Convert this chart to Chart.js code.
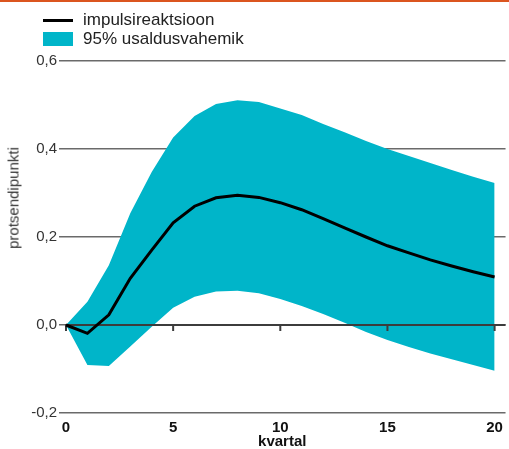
<!DOCTYPE html>
<html>
<head>
<meta charset="utf-8">
<script src="https://cdn.jsdelivr.net/npm/chart.js@4/dist/chart.umd.min.js"></script>
<style>
    html, body { margin: 0; padding: 0; background: #fff; }
    #wrap { position: relative; width: 509px; height: 449px; overflow: hidden; font-family: "Liberation Sans", Arial, sans-serif; }
    #topbar { position: absolute; left: 0; top: 0; width: 509px; height: 2px; background: #db551f; }
    #legend { position: absolute; left: 43px; top: 11px; color: #222; font-size: 17px; line-height: 18.5px; }
    .leg-item { display: flex; align-items: center; height: 18.5px; }
    .leg-line { width: 30px; height: 3px; background: #000; margin-right: 10px; }
    .leg-box { width: 30px; height: 14px; background: #00b5c9; margin-right: 10px; }
    #ytitle { position: absolute; left: 13px; top: 198px; transform: translate(-50%, -50%) rotate(-90deg); font-size: 15px; color: #333; white-space: nowrap; }
    canvas { position: absolute; left: 0; top: 0; }
</style>
</head>
<body>
<div id="wrap">
    <canvas id="chart" width="509" height="449"></canvas>
    <div id="topbar"></div>
    <div id="legend">
        <div class="leg-item"><span class="leg-line"></span>impulsireaktsioon</div>
        <div class="leg-item"><span class="leg-box"></span>95% usaldusvahemik</div>
    </div>
    <div id="ytitle">protsendipunkti</div>
</div>
<script>
    const quarters = [0, 1, 2, 3, 4, 5, 6, 7, 8, 9, 10, 11, 12, 13, 14, 15, 16, 17, 18, 19, 20];
    const impulse = [0, -0.019, 0.023, 0.106, 0.170, 0.232, 0.270, 0.289, 0.295, 0.290, 0.278,
        0.262, 0.242, 0.221, 0.200, 0.180, 0.164, 0.148, 0.134, 0.121, 0.109];
    const upperBand = [0, 0.053, 0.136, 0.254, 0.348, 0.426, 0.475, 0.502, 0.511, 0.507, 0.492,
        0.477, 0.457, 0.438, 0.418, 0.400, 0.384, 0.368, 0.352, 0.337, 0.323];
    const lowerBand = [0, -0.091, -0.093, -0.049, -0.004, 0.039, 0.064, 0.076, 0.078, 0.072, 0.059,
        0.043, 0.025, 0.005, -0.016, -0.034, -0.050, -0.065, -0.078, -0.091, -0.104];
    const xTicks = [0, 5, 10, 15, 20];
    const yTicks = [-0.2, 0, 0.2, 0.4, 0.6];

    const toPoints = (values) => quarters.map((q, i) => ({ x: q, y: values[i] }));

    // zero line with small tick marks, drawn over the band but under the impulse line
    const zeroAxis = {
        id: 'zeroAxis',
        beforeDatasetDraw(chart, args) {
            if (args.index !== 0) return;
            const ctx = chart.ctx;
            const x = chart.scales.x;
            const y = chart.scales.y;
            const y0 = y.getPixelForValue(0);
            ctx.save();
            ctx.strokeStyle = '#3c3c3c';
            ctx.lineWidth = 2;
            ctx.beginPath();
            ctx.moveTo(x.getPixelForValue(0) - 1, y0);
            ctx.lineTo(chart.chartArea.right, y0);
            ctx.stroke();
            xTicks.forEach(v => {
                const px = x.getPixelForValue(v);
                ctx.beginPath();
                ctx.moveTo(px, y0);
                ctx.lineTo(px, y0 + 6);
                ctx.stroke();
            });
            ctx.restore();
        }
    };

    new Chart(document.querySelector('#chart'), {
        type: 'line',
        data: {
            datasets: [
                {
                    label: 'impulsireaktsioon',
                    data: toPoints(impulse),
                    borderColor: '#000',
                    borderWidth: 3,
                    pointRadius: 0,
                    fill: false,
                    order: 0,
                },
                {
                    label: '95% usaldusvahemik',
                    data: toPoints(upperBand),
                    borderWidth: 0,
                    borderColor: 'rgba(0,0,0,0)',
                    backgroundColor: '#00b5c9',
                    pointRadius: 0,
                    fill: '+1',
                    order: 1,
                },
                {
                    label: 'lower',
                    data: toPoints(lowerBand),
                    borderWidth: 0,
                    borderColor: 'rgba(0,0,0,0)',
                    pointRadius: 0,
                    fill: false,
                    order: 2,
                }
            ]
        },
        options: {
            responsive: false,
            animation: false,
            layout: {
                padding: { top: 61, right: 2, left: 0, bottom: 0 }
            },
            scales: {
                x: {
                    type: 'linear',
                    min: -0.326,
                    max: 20.51,
                    afterBuildTicks: (scale) => {
                        scale.ticks = xTicks.map(v => ({ value: v }));
                    },
                    afterFit: (scale) => {
                        scale.height = 36;
                    },
                    border: { display: false },
                    grid: { display: false, drawTicks: false },
                    ticks: {
                        padding: 6,
                        color: '#111',
                        font: { family: 'Liberation Sans', size: 15, weight: 'bold' },
                        callback: (v) => String(v),
                    },
                    title: {
                        display: true,
                        text: 'kvartal',
                        color: '#111',
                        padding: { top: 0, bottom: -2 },
                        font: { family: 'Liberation Sans', size: 15, weight: 'bold' },
                    }
                },
                y: {
                    min: -0.2,
                    max: 0.6,
                    afterBuildTicks: (scale) => {
                        scale.ticks = yTicks.map(v => ({ value: v }));
                    },
                    afterFit: (scale) => {
                        scale.width = 59;
                    },
                    border: { display: false },
                    grid: {
                        color: '#6a6a6a',
                        lineWidth: 1.5,
                        drawTicks: false,
                    },
                    ticks: {
                        padding: 2,
                        color: '#333',
                        font: { family: 'Liberation Sans', size: 15 },
                        callback: (v) => v.toFixed(1).replace('.', ','),
                    }
                }
            },
            plugins: {
                legend: { display: false },
                tooltip: { enabled: false },
            }
        },
        plugins: [zeroAxis]
    });
</script>
</body>
</html>
